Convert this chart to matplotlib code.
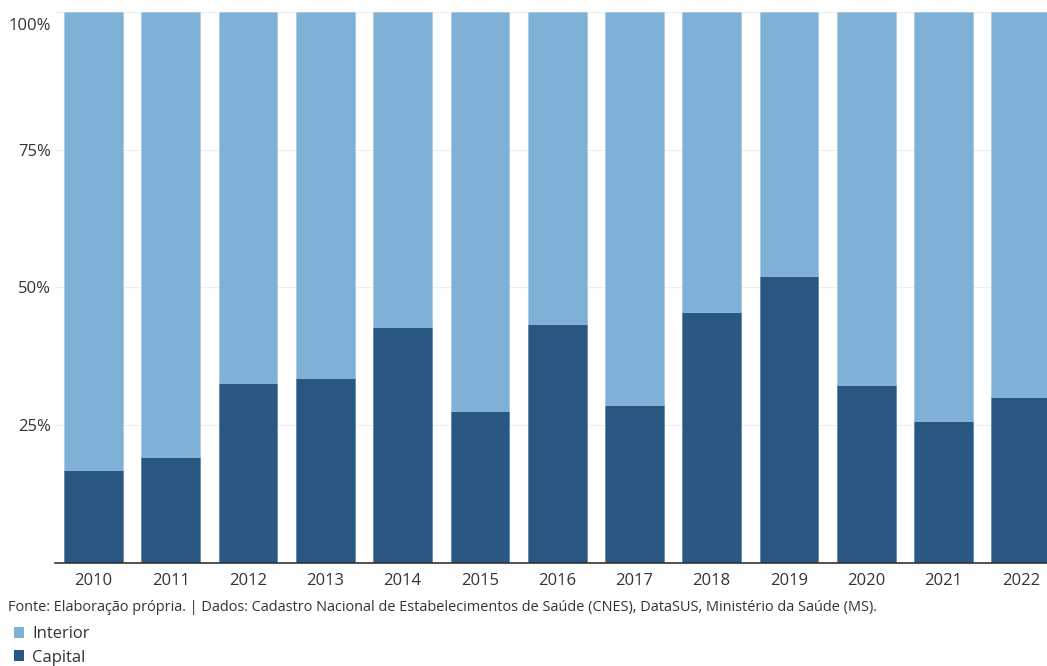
import matplotlib.pyplot as plt
import matplotlib.transforms as mtransforms
from matplotlib.patches import Patch
import numpy as np

plt.rcParams['font.family'] = ['Open Sans', 'DejaVu Sans']

anos = ['2010', '2011', '2012', '2013', '2014', '2015', '2016',
        '2017', '2018', '2019', '2020', '2021', '2022']
capital = [16.9, 19.2, 32.7, 33.6, 42.8, 27.6, 43.4, 28.7, 45.6, 52.1, 32.3, 25.8, 30.1]
interior = [100 - c for c in capital]
yticks = [25, 50, 75, 100]
ytick_labels = ['25%', '50%', '75%', '100%']

cor_capital = '#2a5782'
cor_interior = '#7fb0d6'
cor_texto = '#333333'

fig = plt.figure(figsize=(10.47, 6.66), dpi=100)
ax = fig.add_axes([0.0525, 0.1547, 0.9475, 0.8273])

x = np.arange(len(anos))
ax.bar(x, capital, width=0.76, color=cor_capital, edgecolor='#4a77a3', linewidth=0.4, zorder=2)
ax.bar(x, interior, bottom=capital, width=0.76, color=cor_interior,
       edgecolor='#9cc3e2', linewidth=0.4, zorder=2)

ax.set_xlim(-0.5, 12.34)
ax.set_ylim(0, 100)
ax.set_xticks(x)
ax.set_xticklabels(anos)
ax.set_yticks(yticks)
ax.set_yticklabels(ytick_labels)
ax.tick_params(axis='both', length=0, labelsize=12, colors=cor_texto)
ax.tick_params(axis='x', pad=7)
ax.tick_params(axis='y', pad=3)
# o rótulo de 100% fica um pouco abaixo da linha
lbl = ax.get_yticklabels()[-1]
lbl.set_transform(lbl.get_transform() + mtransforms.ScaledTranslation(0, -0.12, fig.dpi_scale_trans))
ax.yaxis.grid(True, color='#eeeeee', linewidth=0.8, zorder=0)
for s in ['top', 'right', 'left']:
    ax.spines[s].set_visible(False)
ax.spines['bottom'].set_color('#333333')
ax.spines['bottom'].set_linewidth(1.2)
ax.spines['bottom'].set_zorder(3)

fig.text(0.0076, 0.0885,
         'Fonte: Elaboração própria. | Dados: Cadastro Nacional de Estabelecimentos de Saúde (CNES), DataSUS, Ministério da Saúde (MS).',
         fontsize=10.43, color=cor_texto, va='center', ha='left')

handles = [Patch(facecolor=cor_interior, label='Interior'),
           Patch(facecolor=cor_capital, label='Capital')]
leg = fig.legend(handles=handles, loc='upper left', bbox_to_anchor=(0.013, 0.06),
                 frameon=False, fontsize=12, handlelength=0.65, handleheight=0.65,
                 handletextpad=0.45, labelspacing=0.45, borderaxespad=0, borderpad=0)
for t in leg.get_texts():
    t.set_color(cor_texto)

fig.savefig('out.png', dpi=100)
